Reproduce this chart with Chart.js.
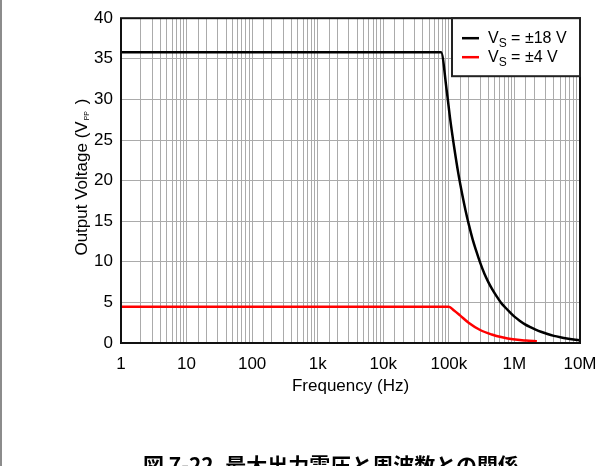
<!DOCTYPE html>
<html>
<head>
<meta charset="utf-8">
<script src="https://cdn.jsdelivr.net/npm/chart.js@4.4.1/dist/chart.umd.min.js"></script>
<style>
  html, body { margin: 0; padding: 0; background: #fff; }
  #wrap { position: relative; width: 613px; height: 466px; overflow: hidden; background: #fff; }
  #edge { position: absolute; left: 0; top: 0; width: 2px; height: 466px; background: #8c8c8c; }
  #plot { position: absolute; left: 0; top: 0; }
  #caption {
    position: absolute; left: 143px; top: 449px; white-space: nowrap; line-height: 21px;
    font: bold 21px "Noto Sans CJK JP", "Liberation Sans", sans-serif; color: #000;
  }
</style>
</head>
<body>
<div id="wrap">
  <canvas id="plot" width="613" height="466"></canvas>
  <div id="edge"></div>
  <div id="caption">図 7-22. 最大出力電圧と周波数との関係</div>
</div>
<script>
// Maximum output swing vs. frequency, two supply voltages
const freqHz18 = [1, 10, 100, 1e3, 1e4, 5e4, 7.6e4, 9.3e4, 1.05e5, 1.2e5, 1.4e5, 1.6e5, 1.8e5, 2.0e5, 2.3e5, 2.6e5, 3.0e5, 3.5e5, 4.0e5, 4.6e5, 5.3e5, 6.2e5, 7.2e5, 8.5e5, 1.0e6, 1.2e6, 1.45e6, 1.75e6, 2.1e6, 2.6e6, 3.2e6, 4.0e6, 5.0e6, 6.3e6, 8.0e6, 1.0e7];
const vout18   = [35.8, 35.8, 35.8, 35.8, 35.8, 35.8, 35.8, 31.0, 27.5, 24.2, 20.8, 18.3, 16.3, 14.7, 12.8, 11.4, 9.9, 8.5, 7.5, 6.6, 5.8, 5.0, 4.4, 3.8, 3.25, 2.75, 2.3, 1.95, 1.65, 1.35, 1.1, 0.88, 0.71, 0.56, 0.44, 0.35];

const freqHz4 = [1, 10, 100, 1e3, 1e4, 1e5, 1.2e5, 1.48e5, 2e5, 3e5, 4.5e5, 6.5e5, 9.5e5, 1.5e6, 2.2e6];
const vout4   = [4.45, 4.45, 4.45, 4.45, 4.45, 4.45, 4.0, 3.4, 2.5, 1.6, 1.05, 0.7, 0.45, 0.3, 0.22];

const seriesColors = ['#000000', '#ff0000'];
const legendMain = ['V', 'V'];
const legendSub = ['S', 'S'];
const legendRest = [' = ±18 V', ' = ±4 V'];

const decadeLabels = { 1: '1', 10: '10', 100: '100', 1000: '1k', 10000: '10k', 100000: '100k', 1000000: '1M', 10000000: '10M' };
const yMin = 0, yMax = 40, yStep = 5;

const FONT = '"Liberation Sans", Arial, sans-serif';

function toPoints(xs, ys) { return xs.map((x, i) => ({ x: x, y: ys[i] })); }

// frame, axis titles and legend box
const decorations = {
  id: 'decorations',
  afterDatasetsDraw(chart) {
    const { ctx, chartArea: a } = chart;
    ctx.save();
    ctx.strokeStyle = '#111';
    ctx.lineWidth = 2;
    ctx.strokeRect(a.left, a.top, a.right - a.left, a.bottom - a.top);

    // x axis title
    ctx.fillStyle = '#000';
    ctx.font = '17px ' + FONT;
    ctx.textAlign = 'center';
    ctx.textBaseline = 'middle';
    ctx.fillText('Frequency (Hz)', (a.left + a.right) / 2, a.bottom + 43);

    // y axis title with subscript
    ctx.save();
    ctx.translate(82, (a.top + a.bottom) / 2 - 3);
    ctx.rotate(-Math.PI / 2);
    const p1 = 'Output Voltage (V', p2 = 'PP', p3 = ' )';
    ctx.font = '17px ' + FONT;
    const w1 = ctx.measureText(p1).width, w3 = ctx.measureText(p3).width;
    ctx.font = '7px ' + FONT;
    const w2 = ctx.measureText(p2).width + 2;
    let x = -(w1 + w2 + w3) / 2;
    ctx.textAlign = 'left';
    ctx.textBaseline = 'alphabetic';
    ctx.font = '17px ' + FONT;
    ctx.fillText(p1, x, 5); x += w1 + 1;
    ctx.font = '7px ' + FONT;
    ctx.fillText(p2, x, 7); x += w2;
    ctx.font = '17px ' + FONT;
    ctx.fillText(p3, x, 5);
    ctx.restore();

    // legend
    const bw = 128, bh = 58;
    const bx = a.right - bw, by = a.top;
    ctx.fillStyle = '#fff';
    ctx.fillRect(bx, by, bw, bh);
    ctx.strokeStyle = '#222';
    ctx.lineWidth = 2;
    ctx.strokeRect(bx, by, bw, bh);
    chart.data.datasets.forEach((ds, i) => {
      const ly = by + 20 + i * 19;
      ctx.strokeStyle = ds.borderColor;
      ctx.lineWidth = 2.5;
      ctx.beginPath();
      ctx.moveTo(bx + 10, ly);
      ctx.lineTo(bx + 27, ly);
      ctx.stroke();
      ctx.fillStyle = '#000';
      ctx.textBaseline = 'middle';
      ctx.textAlign = 'left';
      let tx = bx + 36;
      ctx.font = '16px ' + FONT;
      ctx.fillText(legendMain[i], tx, ly);
      tx += ctx.measureText(legendMain[i]).width;
      ctx.font = '12px ' + FONT;
      ctx.fillText(legendSub[i], tx, ly + 5);
      tx += ctx.measureText(legendSub[i]).width;
      ctx.font = '16px ' + FONT;
      ctx.fillText(legendRest[i], tx, ly);
    });
    ctx.restore();
  }
};

new Chart(document.getElementById('plot'), {
  type: 'line',
  data: {
    datasets: [
      { label: 'VS = ±18 V', data: toPoints(freqHz18, vout18), borderColor: seriesColors[0], borderWidth: 2.5, pointRadius: 0, cubicInterpolationMode: 'monotone', fill: false },
      { label: 'VS = ±4 V', data: toPoints(freqHz4, vout4), borderColor: seriesColors[1], borderWidth: 2.5, pointRadius: 0, cubicInterpolationMode: 'monotone', fill: false }
    ]
  },
  options: {
    responsive: false,
    animation: false,
    devicePixelRatio: 1,
    layout: { padding: { left: 0, top: 15, right: 33, bottom: 63 } },
    plugins: { legend: { display: false }, tooltip: { enabled: false } },
    scales: {
      x: {
        type: 'logarithmic',
        min: 1, max: 1e7,
        border: { display: false },
        grid: { color: '#ababab', lineWidth: 1, drawTicks: false },
        ticks: {
          autoSkip: false, maxRotation: 0, padding: 11, color: '#000',
          font: { family: FONT, size: 17 },
          callback: (v) => decadeLabels[v] !== undefined ? decadeLabels[v] : ''
        },
        afterFit: (s) => { s.height = 60; }
      },
      y: {
        min: yMin, max: yMax,
        border: { display: false },
        grid: { color: '#ababab', lineWidth: 1, drawTicks: false },
        ticks: { stepSize: yStep, padding: 8, color: '#000', font: { family: FONT, size: 17 } },
        afterFit: (s) => { s.width = 121; }
      }
    }
  },
  plugins: [decorations]
});
</script>
</body>
</html>
